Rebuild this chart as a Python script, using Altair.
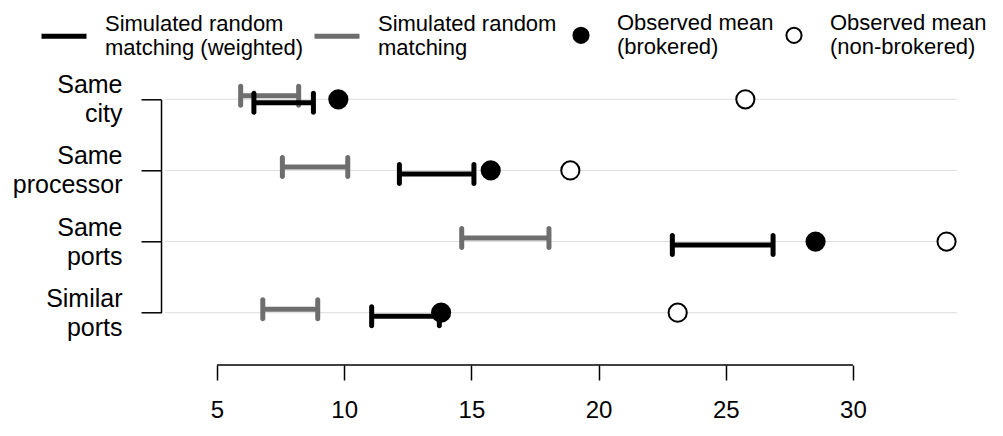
import altair as alt
import pandas as pd

# ---- data ----
categories = ["Same city", "Same processor", "Same ports", "Similar ports"]

random_lo = [5.93, 7.57, 14.62, 6.80]
random_hi = [8.21, 10.14, 18.05, 8.96]
weighted_lo = [6.45, 12.17, 22.90, 11.08]
weighted_hi = [8.79, 15.10, 26.86, 13.74]
obs_brokered = [9.77, 15.76, 28.53, 13.81]
obs_nonbrokered = [25.77, 18.89, 33.68, 23.11]

x_ticks = [5, 10, 15, 20, 25, 30]

series_names = ["Simulated random|matching (weighted)", "Simulated random|matching"]
obs_names = ["Observed mean|(brokered)", "Observed mean|(non-brokered)"]

FONT = "Liberation Sans"
W, H = 792, 213.4
GRAY = "#6e6e6e"

rand_df = pd.DataFrame({"category": categories, "lo": random_lo, "hi": random_hi,
                        "series": series_names[1]})
wt_df = pd.DataFrame({"category": categories, "lo": weighted_lo, "hi": weighted_hi,
                      "series": series_names[0]})
rand_caps = pd.DataFrame({"category": categories * 2, "x": random_lo + random_hi,
                          "series": series_names[1]})
wt_caps = pd.DataFrame({"category": categories * 2, "x": weighted_lo + weighted_hi,
                        "series": series_names[0]})
obs_df = pd.DataFrame({"category": categories * 2,
                       "value": obs_brokered + obs_nonbrokered,
                       "kind": [obs_names[0]] * 4 + [obs_names[1]] * 4})
grid_df = pd.DataFrame({"category": categories})
xaxis_df = pd.DataFrame({"lo": [min(x_ticks)], "hi": [max(x_ticks)]})

x_scale = alt.Scale(domain=[2.956, 34.09], nice=False, zero=False)
y_scale = alt.Scale(type="point", domain=categories, padding=0)

x_axis = alt.Axis(values=x_ticks, title=None, domain=False, grid=False, tickSize=15,
                  tickWidth=1.5, tickColor="black", offset=52.3, labelFontSize=24,
                  labelPadding=19, labelColor="black", labelFont=FONT, format="d")
y_axis = alt.Axis(title=None, labelExpr="split(datum.label, ' ')", labelFontSize=25,
                  labelLineHeight=29, labelPadding=19, labelOffset=-14.5, tickSize=20,
                  tickWidth=1.5, tickColor="black", domainColor="black", domainWidth=1.5,
                  offset=4, grid=False, labelLimit=0, labelColor="black", labelFont=FONT)

series_legend = alt.Legend(orient="none", legendX=-126, legendY=-88, direction="horizontal",
                           title=None, symbolType="stroke", symbolSize=2025,
                           symbolStrokeWidth=5, labelFontSize=22, labelFont=FONT,
                           labelColor="black", labelExpr="split(datum.label, '|')",
                           labelBaseline="bottom",
                           labelOffset=16, columnPadding=0, labelLimit=0, padding=0)
obs_legend = alt.Legend(orient="none", legendX=405, legendY=-75, direction="horizontal",
                        title=None, symbolType="circle", symbolSize=230,
                        symbolStrokeColor="black", symbolStrokeWidth=2,
                        labelFontSize=22, labelFont=FONT, labelColor="black",
                        labelExpr="split(datum.label, '|')", labelBaseline="bottom",
                        labelOffset=25, columnPadding=8, labelLimit=0, padding=0)

series_color = alt.Color("series:N", scale=alt.Scale(domain=series_names,
                                                     range=["black", GRAY]),
                         legend=series_legend)
Y = alt.Y("category:N", scale=y_scale, axis=y_axis)

grid = alt.Chart(grid_df).mark_rule(color="#dddddd", strokeWidth=1).encode(y=Y)

xline = alt.Chart(xaxis_df).mark_rule(color="black", strokeWidth=1.5).encode(
    x=alt.X("lo:Q", scale=x_scale, axis=x_axis), x2="hi:Q", y=alt.value(H + 52.3))

rand_bar = alt.Chart(rand_df).mark_rule(strokeWidth=5, yOffset=-3.5).encode(
    x=alt.X("lo:Q", scale=x_scale, axis=x_axis), x2="hi:Q", y=Y, color=series_color)
rand_cap = alt.Chart(rand_caps).mark_tick(orient="vertical", size=24, thickness=5,
                                          cornerRadius=2.5, yOffset=-3.5, opacity=1).encode(
    x=alt.X("x:Q", scale=x_scale, axis=x_axis), y=Y, color=series_color)
wt_bar = alt.Chart(wt_df).mark_rule(strokeWidth=5, yOffset=3.5).encode(
    x=alt.X("lo:Q", scale=x_scale, axis=x_axis), x2="hi:Q", y=Y, color=series_color)
wt_cap = alt.Chart(wt_caps).mark_tick(orient="vertical", size=24, thickness=5,
                                      cornerRadius=2.5, yOffset=3.5, opacity=1).encode(
    x=alt.X("x:Q", scale=x_scale, axis=x_axis), y=Y, color=series_color)

points = alt.Chart(obs_df).mark_point(shape="circle", size=330, stroke="black",
                                      strokeWidth=2, opacity=1).encode(
    x=alt.X("value:Q", scale=x_scale, axis=x_axis), y=Y,
    fill=alt.Fill("kind:N", scale=alt.Scale(domain=obs_names, range=["black", "white"]),
                  legend=obs_legend))

chart = alt.layer(grid, xline, rand_bar, rand_cap, wt_bar, wt_cap, points).properties(
    width=W, height=H,
    autosize=alt.AutoSizeParams(type="none"),
    padding={"left": 157, "top": 91.3, "right": 38, "bottom": 115},
).configure(font=FONT, background="white").configure_view(stroke=None)

chart.save("out.html", embed_options={"renderer": "svg", "actions": False})
